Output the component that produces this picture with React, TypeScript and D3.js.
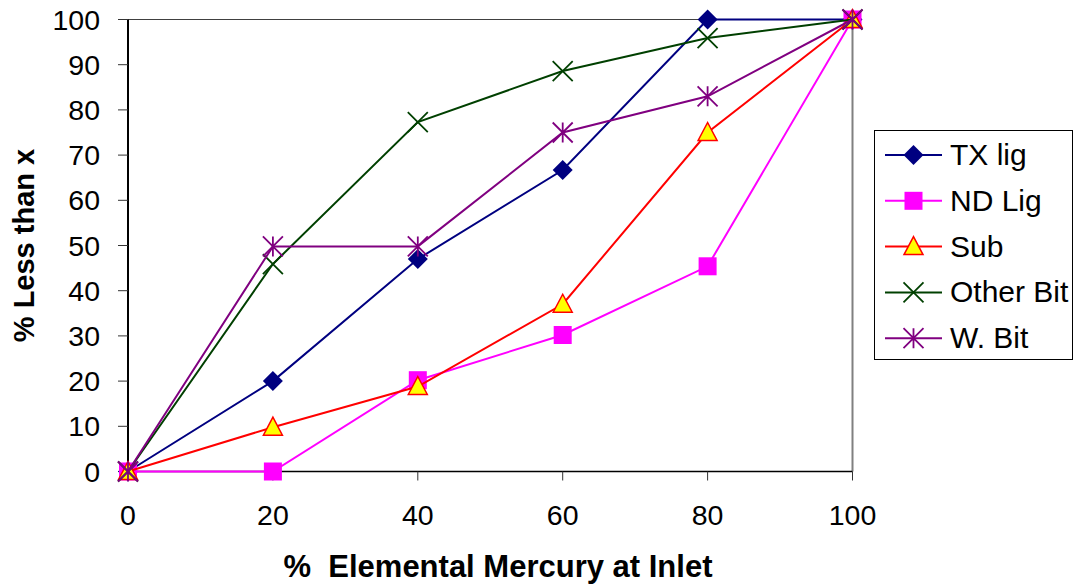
import { line, scaleLinear } from "d3";

const width = 1074;
const height = 586;

const xValues = [0, 20, 40, 60, 80, 100];
const xTicks = [0, 20, 40, 60, 80, 100];
const yTicks = [0, 10, 20, 30, 40, 50, 60, 70, 80, 90, 100];

const txLig = [0, 20, 47, 66.7, 100, 100];
const ndLig = [0, 0, 20.2, 30.2, 45.4, 100];
const sub = [0, 9.8, 18.8, 37, 75, 100];
const otherBit = [0, 45.9, 77.3, 88.6, 95.9, 100];
const wBit = [0, 49.8, 49.8, 75, 83, 100];

type Marker = "diamond" | "square" | "triangle" | "x" | "star";

const series: { name: string; values: number[]; color: string; fill: string; marker: Marker }[] = [
  { name: "TX lig", values: txLig, color: "#000080", fill: "#000080", marker: "diamond" },
  { name: "ND Lig", values: ndLig, color: "#ff00ff", fill: "#ff00ff", marker: "square" },
  { name: "Sub", values: sub, color: "#ff0000", fill: "#ffff00", marker: "triangle" },
  { name: "Other Bit", values: otherBit, color: "#004000", fill: "none", marker: "x" },
  { name: "W. Bit", values: wBit, color: "#800080", fill: "none", marker: "star" },
];

const plot = { left: 128, right: 852.5, top: 19.5, bottom: 471.5 };

const x = scaleLinear().domain([0, 100]).range([plot.left, plot.right]);
const y = scaleLinear().domain([0, 100]).range([plot.bottom, plot.top]);

function markerShape(kind: Marker, color: string, fill: string, cx: number, cy: number, key: string) {
  if (kind === "diamond") {
    const r = 10;
    return (
      <path key={key} d={`M${cx},${cy - r}L${cx + r},${cy}L${cx},${cy + r}L${cx - r},${cy}Z`} fill={fill} />
    );
  }
  if (kind === "square") {
    const s = 18;
    return <rect key={key} x={cx - s / 2} y={cy - s / 2} width={s} height={s} fill={fill} />;
  }
  if (kind === "triangle") {
    const w = 9.5;
    return (
      <path
        key={key}
        d={`M${cx},${cy - 10}L${cx + w},${cy + 8}L${cx - w},${cy + 8}Z`}
        fill={fill}
        stroke={color}
        strokeWidth={1.5}
      />
    );
  }
  if (kind === "x") {
    const r = 10;
    return (
      <path
        key={key}
        d={`M${cx - r},${cy - r}L${cx + r},${cy + r}M${cx - r},${cy + r}L${cx + r},${cy - r}`}
        stroke={color}
        strokeWidth={1.8}
        fill="none"
      />
    );
  }
  const r = 10;
  return (
    <path
      key={key}
      d={`M${cx - r},${cy - r}L${cx + r},${cy + r}M${cx - r},${cy + r}L${cx + r},${cy - r}M${cx},${cy - r}L${cx},${cy + r}`}
      stroke={color}
      strokeWidth={1.8}
      fill="none"
    />
  );
}

export default function App() {
  const pathFor = line<number>()
    .x((_, i) => x(xValues[i]))
    .y((d) => y(d));

  const legend = { left: 874.5, top: 130.5, w: 198, h: 229, row0: 155, step: 45.8 };

  return (
    <svg
      width={width}
      height={height}
      style={{ position: "absolute", left: 0, top: 0, background: "#fff" }}
      fontFamily="Arial, 'Liberation Sans', sans-serif"
    >
      {/* frame */}
      <line x1={plot.left} x2={plot.right} y1={plot.top} y2={plot.top} stroke="#404040" strokeWidth={1} />
      <line x1={plot.right} x2={plot.right} y1={plot.top} y2={plot.bottom} stroke="#808080" strokeWidth={2} />

      {/* y axis */}
      <line x1={plot.left} x2={plot.left} y1={plot.top} y2={plot.bottom} stroke="#000" strokeWidth={2} />
      {yTicks.map((t) => (
        <g key={`y${t}`}>
          <line x1={plot.left - 10} x2={plot.left} y1={y(t)} y2={y(t)} stroke="#333" strokeWidth={1} />
          <text x={100} y={y(t) + 10} textAnchor="end" fontSize={28.5} fill="#000">
            {t}
          </text>
        </g>
      ))}

      {/* x axis */}
      <line x1={plot.left} x2={plot.right} y1={plot.bottom} y2={plot.bottom} stroke="#000" strokeWidth={1.5} />
      {xTicks.map((t) => (
        <g key={`x${t}`}>
          <line x1={x(t)} x2={x(t)} y1={plot.bottom} y2={plot.bottom + 9} stroke="#333" strokeWidth={1} />
          <text x={x(t)} y={525} textAnchor="middle" fontSize={28.5} fill="#000">
            {t}
          </text>
        </g>
      ))}

      {/* series */}
      {series.map((s) => (
        <g key={s.name}>
          <path d={pathFor(s.values) ?? ""} fill="none" stroke={s.color} strokeWidth={2} />
          {s.values.map((v, i) => markerShape(s.marker, s.color, s.fill, x(xValues[i]), y(v), `${s.name}${i}`))}
        </g>
      ))}

      {/* titles */}
      <text x={498} y={577} textAnchor="middle" fontSize={31} fontWeight="bold" style={{ whiteSpace: "pre" }}>
        {"%  Elemental Mercury at Inlet"}
      </text>
      <text
        transform={`translate(34,245.5) rotate(-90)`}
        textAnchor="middle"
        fontSize={29}
        fontWeight="bold"
      >
        % Less than x
      </text>

      {/* legend */}
      <rect x={legend.left} y={legend.top} width={legend.w} height={legend.h} fill="#fff" stroke="#000" strokeWidth={1} />
      {series.map((s, i) => {
        const cy = legend.row0 + i * legend.step;
        return (
          <g key={`lg${s.name}`}>
            <line x1={885} x2={942} y1={cy} y2={cy} stroke={s.color} strokeWidth={2} />
            {markerShape(s.marker, s.color, s.fill, 913.5, cy, `lgm${i}`)}
            <text x={950} y={cy + 10} fontSize={30} fill="#000">
              {s.name}
            </text>
          </g>
        );
      })}
    </svg>
  );
}
